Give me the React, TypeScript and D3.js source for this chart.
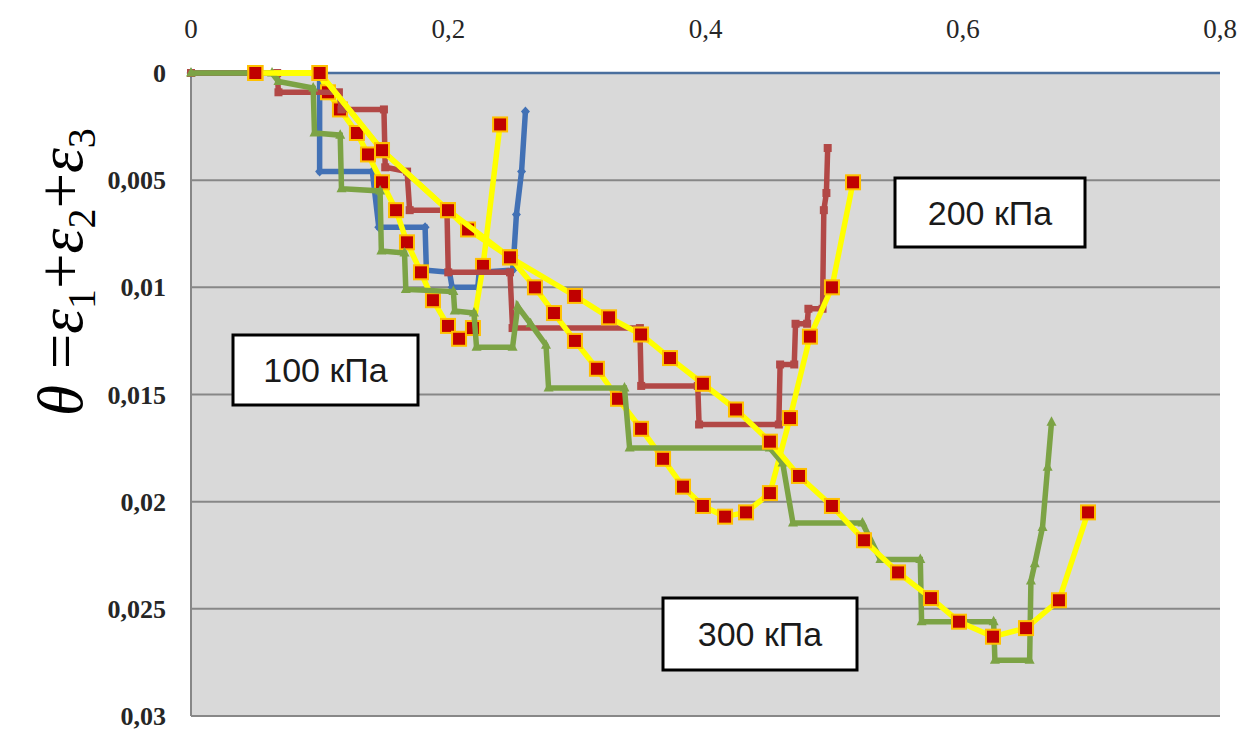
import React from "react";
import * as d3 from "d3";

// x axis ticks (shown on top) and y axis ticks (reversed, 0 at the top)
const xTicks = [0, 0.2, 0.4, 0.6, 0.8];
const xTickLabels = ["0", "0,2", "0,4", "0,6", "0,8"];
const yTicks = [0, 0.005, 0.01, 0.015, 0.02, 0.025, 0.03];
const yTickLabels = ["0", "0,005", "0,01", "0,015", "0,02", "0,025", "0,03"];

// measured step curves
const step100: [number, number][] = [
  [0, 0], [0.1, 0], [0.1, 0.0046], [0.141, 0.0046], [0.146, 0.0072], [0.182, 0.0072],
  [0.183, 0.0092], [0.201, 0.0093], [0.203, 0.01], [0.223, 0.01], [0.224, 0.0093],
  [0.25, 0.0092], [0.251, 0.0085], [0.253, 0.0066], [0.257, 0.0046], [0.26, 0.0018],
];
const step200: [number, number][] = [
  [0, 0], [0.067, 0], [0.068, 0.0009], [0.115, 0.0009], [0.117, 0.0017], [0.15, 0.0017],
  [0.151, 0.0044], [0.168, 0.0046], [0.17, 0.0064], [0.199, 0.0064], [0.2, 0.0093],
  [0.248, 0.0093], [0.25, 0.0119], [0.349, 0.0119], [0.35, 0.0146], [0.394, 0.0146],
  [0.395, 0.0164], [0.457, 0.0164], [0.458, 0.0136], [0.469, 0.0136], [0.47, 0.0117],
  [0.479, 0.0117], [0.48, 0.011], [0.491, 0.011], [0.492, 0.0064], [0.494, 0.0056],
  [0.495, 0.0035],
];
const step300: [number, number][] = [
  [0, 0], [0.063, 0], [0.068, 0.0004], [0.095, 0.0007], [0.096, 0.0028], [0.116, 0.0029],
  [0.117, 0.0054], [0.147, 0.0055], [0.148, 0.0083], [0.166, 0.0084], [0.167, 0.0101],
  [0.204, 0.0102], [0.205, 0.0111], [0.22, 0.0112], [0.222, 0.0128], [0.25, 0.0128],
  [0.254, 0.0109], [0.264, 0.0117], [0.276, 0.0127], [0.278, 0.0147], [0.337, 0.0147],
  [0.341, 0.0175], [0.45, 0.0175], [0.46, 0.0182], [0.468, 0.021], [0.522, 0.021],
  [0.536, 0.0227], [0.567, 0.0227], [0.568, 0.0256], [0.624, 0.0256], [0.625, 0.0274],
  [0.652, 0.0274], [0.653, 0.0237], [0.656, 0.0229], [0.662, 0.0212], [0.666, 0.0184],
  [0.669, 0.0163],
];

// yellow curves with red square markers
const fit100: [number, number][] = [
  [0.05, 0], [0.1, 0], [0.1065, 0.0009], [0.1158, 0.0017], [0.129, 0.0028], [0.1376, 0.0038],
  [0.1485, 0.0051], [0.1594, 0.0064], [0.1679, 0.0079], [0.1788, 0.0093], [0.1881, 0.0106],
  [0.1998, 0.0118], [0.2084, 0.0124], [0.2192, 0.0119], [0.227, 0.009], [0.2403, 0.0024],
];
const fit200: [number, number][] = [
  [0.05, 0], [0.1, 0], [0.1485, 0.0036], [0.1998, 0.0064], [0.2154, 0.0073], [0.248, 0.0086],
  [0.2674, 0.01], [0.2822, 0.0112], [0.2985, 0.0125], [0.3156, 0.0138], [0.332, 0.0152],
  [0.3499, 0.0166], [0.367, 0.018], [0.3825, 0.0193], [0.398, 0.0202], [0.4152, 0.0207],
  [0.4315, 0.0205], [0.4501, 0.0196], [0.4657, 0.0161], [0.4812, 0.0123], [0.4983, 0.01],
  [0.5147, 0.0051],
];
const fit300: [number, number][] = [
  [0.05, 0], [0.1, 0], [0.1485, 0.0036], [0.1998, 0.0064], [0.248, 0.0086], [0.2985, 0.0104],
  [0.325, 0.0114], [0.3499, 0.0122], [0.3724, 0.0133], [0.398, 0.0145], [0.4237, 0.0157],
  [0.4501, 0.0172], [0.4727, 0.0188], [0.4983, 0.0202], [0.5232, 0.0218], [0.5497, 0.0233],
  [0.5753, 0.0245], [0.5971, 0.0256], [0.6235, 0.0263], [0.6492, 0.0259], [0.6748, 0.0246],
  [0.6974, 0.0205],
];

const boxLabels = ["100 кПа", "200 кПа", "300 кПа"];

const W = 1240;
const H = 733;
const left = 191, right = 1220, top = 73, bottom = 716;

const x = d3.scaleLinear().domain([0, 0.8]).range([left, right]);
const y = d3.scaleLinear().domain([0, 0.03]).range([top, bottom]);
const line = d3.line<[number, number]>().x(d => x(d[0])).y(d => y(d[1]));

const BLUE = "#4271b5";
const RED = "#b24846";
const GREEN = "#7ca345";

function StepSeries({ data, color, marker }: { data: [number, number][]; color: string; marker: string }) {
  return (
    <g>
      <path d={line(data) || ""} fill="none" stroke={color} strokeWidth={5.5} strokeLinejoin="miter" />
      {data.map((d, i) => {
        const cx = x(d[0]), cy = y(d[1]);
        if (marker === "diamond")
          return <path key={i} d={`M${cx},${cy - 5}L${cx + 4.5},${cy}L${cx},${cy + 5}L${cx - 4.5},${cy}Z`} fill={color} />;
        if (marker === "tri")
          return <path key={i} d={`M${cx},${cy - 6}L${cx + 5},${cy + 3.5}L${cx - 5},${cy + 3.5}Z`} fill={color} />;
        return <rect key={i} x={cx - 4} y={cy - 4} width={8} height={8} fill={color} />;
      })}
    </g>
  );
}

function FitSeries({ data }: { data: [number, number][] }) {
  return (
    <g>
      <path d={line(data) || ""} fill="none" stroke="#ffff00" strokeWidth={5.5} strokeLinejoin="round" />
      {data.map((d, i) => (
        <rect key={i} x={x(d[0]) - 7} y={y(d[1]) - 7} width={14} height={14}
          fill="#c00000" stroke="#ffc000" strokeWidth={2} />
      ))}
    </g>
  );
}

export default function App() {
  const boxes = [
    { label: boxLabels[0], x0: 233, y0: 335, w: 185, h: 70 },
    { label: boxLabels[1], x0: 895, y0: 178, w: 190, h: 69 },
    { label: boxLabels[2], x0: 663, y0: 598, w: 194, h: 72 },
  ];
  return (
    <svg width={W} height={H} style={{ position: "absolute", left: 0, top: 0, background: "#fff" }}>
      <rect x={left} y={top} width={right - left} height={bottom - top} fill="#d9d9d9" />
      {yTicks.slice(1).map((t, i) => (
        <line key={i} x1={left} x2={right} y1={y(t)} y2={y(t)} stroke="#878787" strokeWidth={2} />
      ))}
      <line x1={left} x2={left} y1={top} y2={bottom} stroke="#878787" strokeWidth={2} />
      <line x1={left} x2={right} y1={top} y2={top} stroke="#4a6f9e" strokeWidth={2.5} />

      {xTicks.map((t, i) => (
        <text key={i} x={x(t)} y={38} textAnchor="middle" fontFamily="Liberation Serif, serif"
          fontSize={27} fill="#262626">{xTickLabels[i]}</text>
      ))}
      {yTicks.map((t, i) => (
        <text key={i} x={166} y={y(t) + 9} textAnchor="end" fontFamily="Liberation Serif, serif"
          fontWeight="bold" fontSize={26} fill="#262626">{yTickLabels[i]}</text>
      ))}

      <text transform="translate(82,416) rotate(-90)" fontFamily="Liberation Serif, serif" fontSize={63} fill="#000">
        <tspan fontStyle="italic">θ</tspan>
        <tspan> =</tspan>
        <tspan fontStyle="italic">ε</tspan>
        <tspan fontSize={40} dy={13}>1</tspan>
        <tspan dy={-13}>+</tspan>
        <tspan fontStyle="italic">ε</tspan>
        <tspan fontSize={40} dy={13}>2</tspan>
        <tspan dy={-13}>+</tspan>
        <tspan fontStyle="italic">ε</tspan>
        <tspan fontSize={40} dy={13}>3</tspan>
      </text>

      <StepSeries data={step100} color={BLUE} marker="diamond" />
      <FitSeries data={fit100} />
      <StepSeries data={step200} color={RED} marker="square" />
      <FitSeries data={fit200} />
      <StepSeries data={step300} color={GREEN} marker="tri" />
      <FitSeries data={fit300} />

      {boxes.map((b, i) => (
        <g key={i}>
          <rect x={b.x0} y={b.y0} width={b.w} height={b.h} fill="#fff" stroke="#000" strokeWidth={3} />
          <text x={b.x0 + b.w / 2} y={b.y0 + b.h / 2 + 12} textAnchor="middle"
            fontFamily="Liberation Sans, Arial, sans-serif" fontSize={34} fill="#1a1a1a">{b.label}</text>
        </g>
      ))}
    </svg>
  );
}
